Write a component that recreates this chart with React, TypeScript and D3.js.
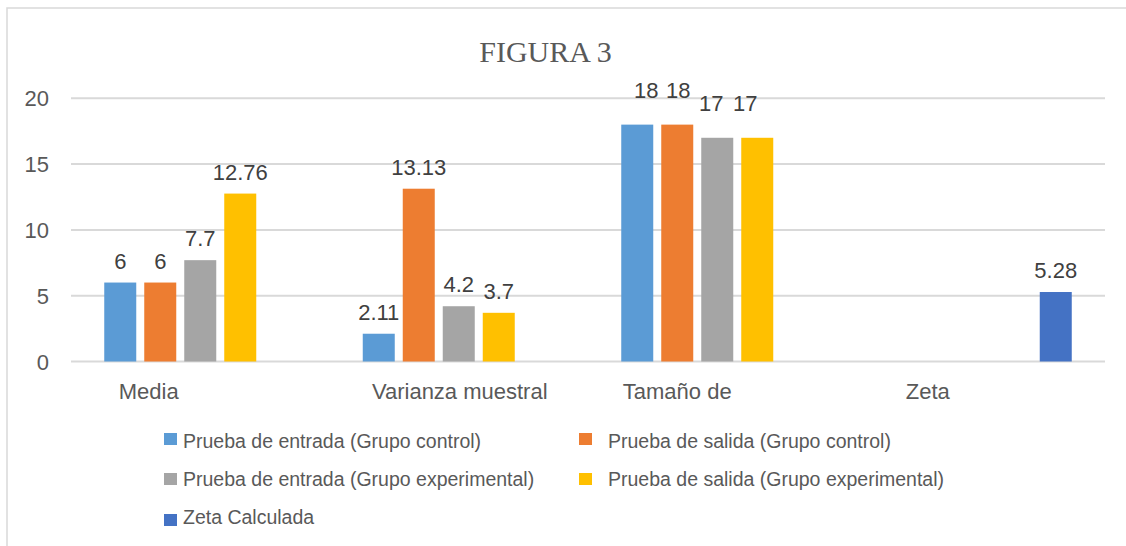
import React from 'react';
import * as d3 from 'd3';

// datos del gráfico
const categorias = ['Media', 'Varianza muestral', 'Tamaño de', 'Zeta'];
const series = [
  'Prueba de entrada (Grupo control)',
  'Prueba de salida (Grupo control)',
  'Prueba de entrada (Grupo experimental)',
  'Prueba de salida (Grupo experimental)',
  'Zeta Calculada',
];
const entradaControl = [6, 2.11, 18, null];
const salidaControl = [6, 13.13, 18, null];
const entradaExperimental = [7.7, 4.2, 17, null];
const salidaExperimental = [12.76, 3.7, 17, null];
const zetaCalculada = [null, null, null, 5.28];
const ticksY = [0, 5, 10, 15, 20];

const valores: (number | null)[][] = [
  entradaControl,
  salidaControl,
  entradaExperimental,
  salidaExperimental,
  zetaCalculada,
];
const colores = ['#5B9BD5', '#ED7D31', '#A5A5A5', '#FFC000', '#4472C4'];

// ajustes de posición de etiquetas (como quedaron en el original)
const elevacionEtiqueta = [14, 14, 27, 14];
const desplazEtiqueta = [
  [0, 0, 0, 0, 0],
  [0, 0, 0, 0, 0],
  [9, 1, -6, -12, 0],
  [0, 0, 0, 0, 0],
];
const desplazCategoria = [-51.5, 1, -40, -48];

// leyenda: columna y fila de cada serie
const leyendaPos = [
  { col: 0, fila: 0 },
  { col: 1, fila: 0 },
  { col: 0, fila: 1 },
  { col: 1, fila: 1 },
  { col: 0, fila: 2 },
];

const W = 1126;
const H = 546;
const texto = '#595959';
const fuente = '"Liberation Sans", Arial, sans-serif';

export default function App() {
  const x = d3.scaleBand<string>().domain(categorias).range([71, 1105]).padding(0);
  const y = d3.scaleLinear().domain([0, 20]).range([361.5, 98.3]);
  const xs = d3
    .scaleBand<string>()
    .domain(series)
    .range([0, 200])
    .paddingInner(0.2)
    .paddingOuter(0.1);

  const centro = (c: string) => (x(c) ?? 0) + x.bandwidth() / 2;

  const colX = [164, 579];
  const textoX = [183, 608];
  const filaY = [447.5, 486, 523.5];
  const cuadroY = [433, 473, 514];

  return (
    <svg
      width={W}
      height={H}
      style={{ position: 'absolute', left: 0, top: 0, background: '#fff' }}
    >
      <rect x={7} y={8} width={W} height={H} fill="#fff" stroke="#d9d9d9" strokeWidth={1.5} />

      <text
        x={545.5}
        y={62}
        textAnchor="middle"
        fontFamily='"Liberation Serif", "Times New Roman", serif'
        fontSize={30}
        fill={texto}
      >
        FIGURA 3
      </text>

      {/* rejilla y eje Y */}
      {ticksY.map((t) => (
        <g key={t}>
          <line x1={71} x2={1105} y1={y(t)} y2={y(t)} stroke="#d9d9d9" strokeWidth={2} />
          <text
            x={49}
            y={y(t) + 8}
            textAnchor="end"
            fontFamily={fuente}
            fontSize={22}
            fill={texto}
          >
            {t}
          </text>
        </g>
      ))}

      {/* barras */}
      {categorias.map((c, ci) => (
        <g key={c} transform={`translate(${centro(c) - 100},0)`}>
          {series.map((s, si) => {
            const v = valores[si][ci];
            if (v == null) return null;
            const bx = xs(s) ?? 0;
            return (
              <g key={s}>
                <rect
                  x={bx}
                  y={y(v)}
                  width={xs.bandwidth()}
                  height={y(0) - y(v)}
                  fill={colores[si]}
                />
                <text
                  x={bx + xs.bandwidth() / 2 + desplazEtiqueta[ci][si]}
                  y={y(v) - elevacionEtiqueta[ci]}
                  textAnchor="middle"
                  fontFamily={fuente}
                  fontSize={22}
                  fill="#404040"
                >
                  {v}
                </text>
              </g>
            );
          })}
        </g>
      ))}

      {/* etiquetas de categorías */}
      {categorias.map((c, ci) => (
        <text
          key={c}
          x={centro(c) + desplazCategoria[ci]}
          y={399}
          textAnchor="middle"
          fontFamily={fuente}
          fontSize={22}
          fill={texto}
        >
          {c}
        </text>
      ))}

      {/* leyenda */}
      {series.map((s, si) => {
        const p = leyendaPos[si];
        return (
          <g key={s}>
            <rect x={colX[p.col]} y={cuadroY[p.fila]} width={13} height={12} fill={colores[si]} />
            <text
              x={textoX[p.col]}
              y={filaY[p.fila]}
              fontFamily={fuente}
              fontSize={19.5}
              fill={texto}
            >
              {s}
            </text>
          </g>
        );
      })}
    </svg>
  );
}
